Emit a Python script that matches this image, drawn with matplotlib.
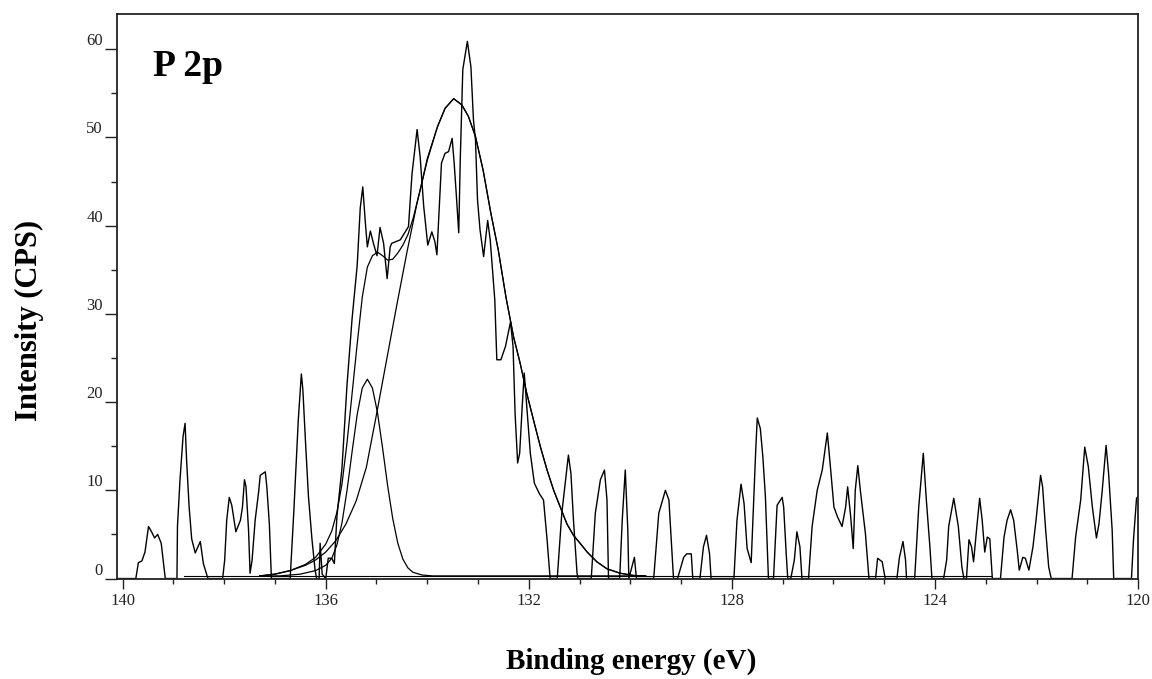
import numpy as np
import matplotlib
matplotlib.use('Agg')
import matplotlib.pyplot as plt
from matplotlib.ticker import MultipleLocator

# P 2p region, binding energy (eV) vs counts
raw_be = [140.1, 139.74, 139.69, 139.62, 139.56, 139.49, 139.43, 139.37, 139.31, 139.24, 139.16,
          138.93, 138.92, 138.87, 138.81, 138.77, 138.74, 138.69, 138.64, 138.57, 138.47, 138.41, 138.32,
          138.03, 137.99, 137.95, 137.90, 137.85, 137.77, 137.68, 137.64, 137.60, 137.57, 137.52, 137.49,
          137.45, 137.39, 137.32, 137.29, 137.19, 137.16, 137.11, 137.07,
          136.70, 136.63, 136.54, 136.48, 136.45, 136.40, 136.34, 136.27, 136.21, 136.18,
          136.13, 136.11, 136.07, 136.0, 135.95, 135.88, 135.83, 135.78, 135.68, 135.58, 135.48,
          135.38, 135.32, 135.27, 135.22, 135.18, 135.12, 135.06, 134.99, 134.93, 134.86, 134.79,
          134.73, 134.70, 134.53, 134.37, 134.30, 134.20, 134.14, 134.07, 133.99, 133.91, 133.85,
          133.81, 133.72, 133.65, 133.58, 133.51, 133.47, 133.43, 133.38, 133.35, 133.30, 133.21,
          133.14, 133.09, 133.05, 133.01, 132.96, 132.89, 132.81, 132.76, 132.67, 132.63, 132.55,
          132.46, 132.36, 132.31, 132.27, 132.22, 132.18, 132.13, 132.09, 132.04, 131.97, 131.89,
          131.79, 131.71, 131.64, 131.58, 131.44, 131.35, 131.26, 131.22, 131.17, 131.12, 131.05,
          131.03, 130.77, 130.69, 130.59, 130.51, 130.46, 130.43, 130.21, 130.16, 130.10, 130.05,
          130.03, 129.97, 129.92, 129.88, 129.54, 129.44, 129.31, 129.24, 129.15, 129.07, 128.95,
          128.89, 128.80, 128.77, 128.63, 128.56, 128.50, 128.44, 128.41, 127.96, 127.90, 127.82,
          127.76, 127.70, 127.62, 127.58, 127.53, 127.50, 127.44, 127.39, 127.34, 127.31, 127.28,
          127.18, 127.14, 127.11, 127.01, 126.98, 126.93, 126.90, 126.84, 126.77, 126.72, 126.66,
          126.62, 126.49, 126.42, 126.32, 126.22, 126.12, 126.06, 125.99, 125.92, 125.83, 125.76,
          125.72, 125.66, 125.61, 125.57, 125.52, 125.47, 125.37, 125.30, 125.17, 125.13, 125.04,
          124.98, 124.75, 124.70, 124.63, 124.58, 124.56, 124.40, 124.32, 124.23, 124.17, 124.10,
          124.06, 123.83, 123.77, 123.73, 123.63, 123.54, 123.47, 123.43, 123.38, 123.33, 123.28,
          123.24, 123.17, 123.12, 123.07, 123.02, 122.97, 122.92, 122.87, 122.71, 122.64, 122.58,
          122.51, 122.45, 122.38, 122.34, 122.27, 122.22, 122.15, 122.07, 122.01, 121.92, 121.88,
          121.82, 121.76, 121.71, 121.30, 121.23, 121.13, 121.05, 120.98, 120.90, 120.82, 120.77,
          120.71, 120.63, 120.58, 120.51, 120.48, 120.13, 120.09, 120.03, 120.0]
raw_cps = [0, 0, 1.8, 2.0, 3.0, 5.9, 5.3, 4.6, 5.0, 4.0, 0,
           0, 5.9, 11.2, 16.1, 17.6, 13.4, 8.1, 4.5, 2.9, 4.2, 1.7, 0,
           0, 2.1, 6.6, 9.2, 8.3, 5.3, 6.6, 8.1, 11.2, 10.4, 5.5, 0.6,
           2.1, 6.6, 9.9, 11.7, 12.1, 10.4, 6.2, 0,
           0, 7.4, 18.0, 23.2, 21.4, 15.7, 9.3, 4.4, 1.0, 0,
           0, 4.0, 0.5, 0, 2.3, 2.3, 1.7, 7.0, 12.5, 22.0, 29.5,
           35.5, 42.0, 44.4, 40.4, 37.6, 39.4, 38.0, 36.6, 39.8, 38.0, 34.0,
           37.6, 38.0, 38.4, 39.9, 45.9, 50.9, 47.8, 42.2, 37.8, 39.3, 38.2,
           36.7, 47.1, 48.2, 48.4, 49.9, 47.1, 43.7, 39.2, 47.5, 57.7, 60.9,
           58.0, 52.0, 49.7, 42.9, 39.5, 36.5, 40.6, 38.4, 31.6, 24.8, 24.8,
           26.3, 29.1, 26.3, 18.7, 13.1, 14.2, 19.5, 23.3, 19.5, 14.2, 10.8,
           9.6, 8.9, 4.4, 0, 0, 7.4, 11.9, 14.0, 11.9, 6.6, 0.6,
           0, 0, 7.4, 11.2, 12.3, 8.9, 0, 0, 6.6, 12.3, 5.5,
           0, 1.3, 2.4, 0, 0, 7.4, 10.0, 8.9, 0, 0, 2.4,
           2.8, 2.8, 0, 0, 3.6, 4.9, 2.8, 0, 0, 6.6, 10.7,
           8.5, 3.4, 1.8, 7.4, 14.6, 18.2, 17.0, 13.8, 9.3, 4.7, 0,
           0, 4.7, 8.3, 9.2, 8.1, 2.8, 0, 0, 2.1, 5.3, 3.6,
           0, 0, 5.9, 10.0, 12.3, 16.5, 12.7, 8.1, 7.0, 5.9, 8.1,
           10.4, 7.0, 3.4, 10.0, 12.8, 10.0, 5.1, 0, 0, 2.3, 1.9,
           0, 0, 2.4, 4.2, 2.1, 0, 0, 8.1, 14.2, 8.9, 3.6,
           0, 0, 2.1, 5.9, 9.1, 5.9, 1.3, 0, 0, 4.4, 3.6,
           1.9, 6.2, 9.1, 6.6, 3.0, 4.7, 4.5, 0, 0, 4.7, 6.6,
           7.8, 6.6, 3.2, 0.95, 2.4, 2.3, 0.95, 3.6, 6.6, 11.7, 10.4,
           5.5, 1.3, 0, 0, 4.7, 8.9, 14.9, 12.7, 8.1, 4.6, 6.2,
           9.7, 15.1, 11.9, 5.5, 0, 0, 4.4, 9.1, 9.3]

# narrow component
comp1_be = [137.3, 136.9, 136.5, 136.2, 136.0, 135.88, 135.78, 135.68, 135.58, 135.48, 135.38,
            135.28, 135.18, 135.08, 134.98, 134.88, 134.78, 134.68, 134.58, 134.48, 134.38,
            134.28, 134.1, 133.9, 129.7]
comp1_cps = [0.3, 0.3, 0.5, 0.9, 1.5, 2.3, 3.8, 6.3, 10.0, 14.4, 18.6,
             21.6, 22.6, 21.6, 18.8, 14.8, 10.5, 6.8, 4.0, 2.2, 1.2,
             0.7, 0.4, 0.3, 0.3]

# broad component
comp2_be = [137.3, 137.0, 136.7, 136.4, 136.2, 136.0, 135.8, 135.6, 135.4, 135.2, 135.0,
            134.8, 134.6, 134.4, 134.2, 134.0, 133.8, 133.65, 133.48, 133.32, 133.19, 133.05,
            132.9, 132.75, 132.6, 132.45, 132.3, 132.17, 132.04, 131.9, 131.77, 131.64, 131.51,
            131.38, 131.25, 131.12, 130.99, 130.85, 130.66, 130.46, 130.2, 129.94, 129.7]
comp2_cps = [0.3, 0.5, 0.9, 1.5, 2.1, 3.0, 4.3, 6.2, 8.8, 12.6, 18.6,
             24.8, 31.0, 37.0, 42.6, 47.4, 51.2, 53.3, 54.4, 53.7, 52.4, 50.1,
             46.3, 41.5, 37.2, 31.9, 27.4, 24.4, 21.0, 17.8, 14.9, 12.3, 10.0,
             8.1, 6.2, 4.9, 4.0, 3.0, 1.9, 1.1, 0.6, 0.35, 0.3]

# fitted envelope
env_be = [137.3, 137.0, 136.7, 136.4, 136.2, 136.0, 135.88, 135.78, 135.68, 135.58, 135.48,
          135.38, 135.28, 135.18, 135.08, 134.98, 134.88, 134.78, 134.68, 134.58, 134.48,
          134.38, 134.28, 134.15, 134.0, 133.8, 133.65, 133.48, 133.32, 133.19, 133.05,
          132.9, 132.75, 132.6, 132.45, 132.3, 132.17, 132.04, 131.9, 131.77, 131.64, 131.51,
          131.38, 131.25, 131.12, 130.99, 130.85, 130.66, 130.46, 130.2, 129.94, 129.7]
env_cps = [0.3, 0.5, 0.9, 1.6, 2.4, 3.9, 5.4, 7.5, 10.7, 15.4, 21.0,
           26.6, 31.9, 35.3, 36.6, 37.0, 36.6, 36.1, 36.2, 36.9, 37.8,
           39.0, 40.8, 43.8, 47.6, 51.2, 53.3, 54.4, 53.7, 52.4, 50.1,
           46.3, 41.5, 37.2, 31.9, 27.4, 24.4, 21.0, 17.8, 14.9, 12.3, 10.0,
           8.1, 6.2, 4.9, 4.0, 3.0, 1.9, 1.1, 0.6, 0.35, 0.3]

base_be = [138.8, 122.9]
base_cps = [0.3, 0.3]

serif = ['Liberation Serif', 'DejaVu Serif']

fig = plt.figure(figsize=(11.52, 6.79), dpi=100)
ax = fig.add_axes([0.1016, 0.1473, 0.8863, 0.8321])

ax.plot(base_be, base_cps, color='black', lw=0.8)
ax.plot(comp1_be, comp1_cps, color='black', lw=0.9)
ax.plot(comp2_be, comp2_cps, color='black', lw=0.9)
ax.plot(env_be, env_cps, color='black', lw=0.9)
ax.plot(raw_be, raw_cps, color='black', lw=1.0)

ax.set_xlim(140.11, 120)
ax.set_ylim(-0.05, 64)

ax.xaxis.set_major_locator(MultipleLocator(4))
ax.xaxis.set_minor_locator(MultipleLocator(1))
ax.yaxis.set_major_locator(MultipleLocator(10))
ax.yaxis.set_minor_locator(MultipleLocator(5))

for s in ax.spines.values():
    s.set_linewidth(1.3)
    s.set_color('#222222')

ax.tick_params(axis='x', which='major', direction='out', length=7, width=1, pad=3,
               labelsize=12, colors='#222222')
ax.tick_params(axis='x', which='minor', direction='out', length=3.5, width=1, colors='#222222')
ax.tick_params(axis='y', which='major', direction='out', length=8.6, width=1, pad=1.5,
               labelsize=12, colors='#222222')
ax.tick_params(axis='y', which='minor', direction='out', length=4.5, width=1, colors='#222222')

for lab in ax.get_xticklabels() + ax.get_yticklabels():
    lab.set_family(serif)
for lab in ax.get_yticklabels():
    lab.set_va('bottom')

ax.set_xlabel('Binding energy (eV)', family=serif, fontsize=21, fontweight='bold')
ax.xaxis.set_label_coords(0.504, -0.122)
ax.set_ylabel('Intensity (CPS)', family=serif, fontsize=22, fontweight='bold')
ax.yaxis.set_label_coords(-0.072, 0.458)

ax.text(0.0353, 0.89, 'P 2p', transform=ax.transAxes, family=serif, fontsize=27,
        fontweight='bold', ha='left', va='baseline')

fig.savefig('out.png', dpi=100)
